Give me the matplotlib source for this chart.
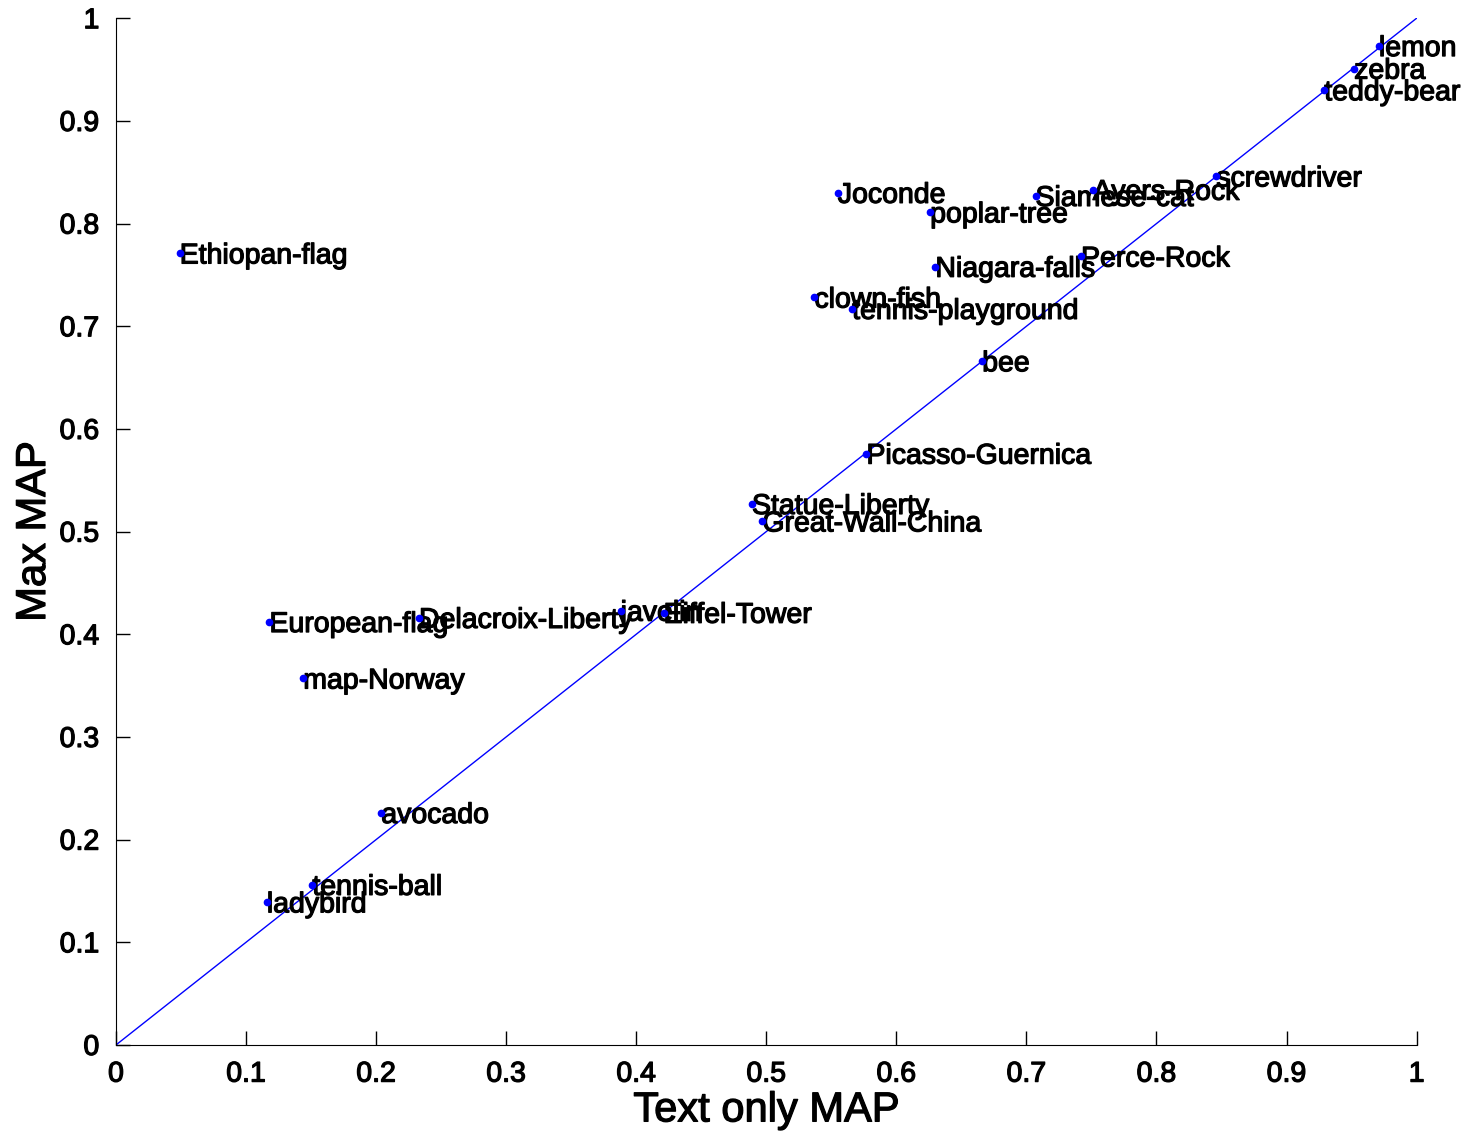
import matplotlib
matplotlib.use("Agg")
import matplotlib.pyplot as plt
import matplotlib.patheffects as pe

names = ["lemon", "zebra", "teddy-bear", "screwdriver", "Ayers-Rock", "Siamese-cat",
         "Joconde", "poplar-tree", "Ethiopan-flag", "Niagara-falls", "Perce-Rock",
         "clown-fish", "tennis-playground", "bee", "Picasso-Guernica", "Statue-Liberty",
         "Great-Wall-China", "European-flag", "Delacroix-Liberty", "javelin",
         "Eiffel-Tower", "map-Norway", "avocado", "tennis-ball", "ladybird"]
text_map = [0.971, 0.952, 0.929, 0.846, 0.751, 0.707, 0.555, 0.626, 0.049, 0.630, 0.742,
            0.537, 0.566, 0.666, 0.577, 0.489, 0.497, 0.118, 0.233, 0.388, 0.421,
            0.144, 0.204, 0.151, 0.116]
max_map = [0.973, 0.951, 0.930, 0.846, 0.833, 0.827, 0.830, 0.811, 0.771, 0.758, 0.768,
           0.728, 0.717, 0.666, 0.576, 0.527, 0.510, 0.412, 0.416, 0.423, 0.421,
           0.357, 0.226, 0.156, 0.139]
ticks = [0, 0.1, 0.2, 0.3, 0.4, 0.5, 0.6, 0.7, 0.8, 0.9, 1]
tick_labels = ["0", "0.1", "0.2", "0.3", "0.4", "0.5", "0.6", "0.7", "0.8", "0.9", "1"]

plt.rcParams['font.family'] = ['Liberation Sans', 'DejaVu Sans']
thick = [pe.withStroke(linewidth=0.9, foreground='black')]

fig = plt.figure(figsize=(14.68, 11.32), dpi=100)
ax = fig.add_axes([0.079, 0.0769, 0.886, 0.907])

ax.plot([0, 1], [0, 1], color='blue', lw=1, zorder=2)
for n, x, y in zip(names, text_map, max_map):
    ax.text(x, y - 0.003, n, fontsize=20.5, va='center', ha='left', color='black',
            path_effects=thick, zorder=3)
ax.plot(text_map, max_map, 'o', color='blue', ms=4.5, mec='blue', zorder=4)

ax.set_xlim(0, 1)
ax.set_ylim(0, 1)
ax.set_xticks(ticks)
ax.set_xticklabels(tick_labels)
ax.set_yticks(ticks)
ax.set_yticklabels(tick_labels)
ax.tick_params(direction='in', length=10, width=1, labelsize=20.5)
ax.tick_params(axis='x', pad=12)
ax.tick_params(axis='y', pad=12)
for lab in ax.get_xticklabels() + ax.get_yticklabels():
    lab.set_path_effects(thick)
ax.spines['top'].set_visible(False)
ax.spines['right'].set_visible(False)
ax.set_xlabel("Text only MAP", fontsize=30, labelpad=2, path_effects=thick)
ax.set_ylabel("Max MAP", fontsize=30, labelpad=4, path_effects=thick)

fig.savefig("out.png", dpi=100)
